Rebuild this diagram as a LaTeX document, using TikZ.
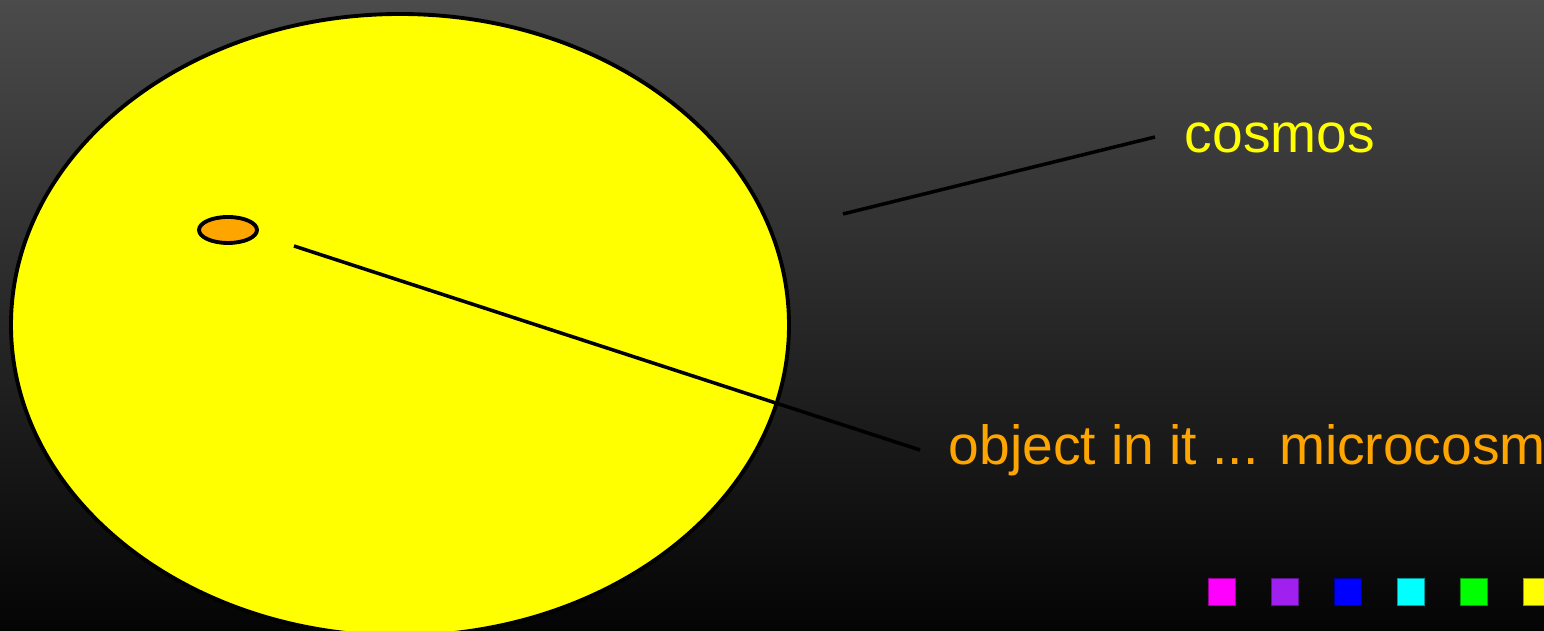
\documentclass[tikz,border=0pt]{standalone}
\usepackage{fontspec}
\setmainfont{Liberation Sans}
\usepackage{tikz}
\usetikzlibrary{positioning, shapes.geometric}
\definecolor{bgtop}{RGB}{75,75,75}
\definecolor{bgbottom}{RGB}{4,4,4}
\definecolor{cosmosyellow}{RGB}{255,255,0}
\definecolor{microorange}{RGB}{255,165,0}
\definecolor{swmagenta}{RGB}{255,0,255}
\definecolor{swpurple}{RGB}{160,32,240}
\definecolor{swblue}{RGB}{0,0,255}
\definecolor{swcyan}{RGB}{0,255,255}
\definecolor{swgreen}{RGB}{0,255,0}
\tikzset{
  outline/.style={draw=black, line width=1.1pt},
  leader/.style={draw=black, line width=1pt},
  label text/.style={anchor=base west, inner sep=0pt, font=\fontsize{15.7}{19}\selectfont},
  swatch/.style={minimum size=7.5pt, inner sep=0pt, line width=0.3pt}
}

\begin{document}
\begin{tikzpicture}[x=0.01cm, y=-0.01cm]
      \useasboundingbox (0,0) rectangle (1544,631);
      \shade[top color=bgtop, bottom color=bgbottom] (0,0) rectangle (1544,631);
      \begin{scope}
        \clip (0,0) rectangle (1544,631);
        \filldraw[outline, fill=cosmosyellow] (400,325) ellipse [x radius=389, y radius=311];
      \end{scope}
      \filldraw[outline, fill=microorange] (228,230) ellipse [x radius=29, y radius=13];
      \node[label text, text=cosmosyellow] (cosmos) at (1184,153) {cosmos};
      \node[label text, text=microorange] (micro) at (948,465) {object in it ... microcosm};
      \coordinate (cosmosfrom) at (843,214);
      \coordinate (cosmosto) at (1155,137);
      \coordinate (microfrom) at (294,246);
      \coordinate (microto) at (920,450);
      \draw[leader] (cosmosfrom) -- (cosmosto);
      \draw[leader] (microfrom) -- (microto);
      \foreach \c [count=\i from 0] in {swmagenta, swpurple, swblue, swcyan, swgreen, cosmosyellow}
        \node[swatch, fill=\c, draw=\c!60!black] (sw\i) at (1222+63*\i,592) {};
    \end{tikzpicture}
\end{document}
